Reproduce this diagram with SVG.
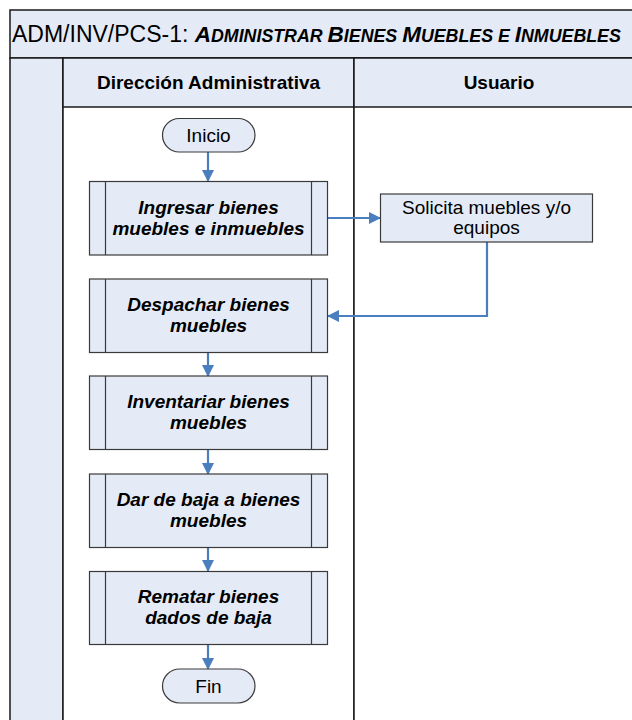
<svg xmlns="http://www.w3.org/2000/svg" width="632" height="720" viewBox="0 0 632 720">
  <style>
    .frame { fill: #E5EBF6; stroke: #1a1a1a; stroke-width: 1.5; }
    .lane { fill: #ffffff; stroke: #1a1a1a; stroke-width: 1.5; }
    .box { fill: #E5EBF6; stroke: #3a3a3a; stroke-width: 1.2; }
    .bar { stroke: #3a3a3a; stroke-width: 1.2; fill: none; }
    .hdr { font-family: "Liberation Sans", Arial, sans-serif; font-size: 19px; font-weight: bold; fill: #000; text-anchor: middle; }
    .proc { font-family: "Liberation Sans", Arial, sans-serif; font-size: 19px; font-weight: bold; font-style: italic; fill: #000; text-anchor: middle; }
    .txt { font-family: "Liberation Sans", Arial, sans-serif; font-size: 19px; fill: #000; text-anchor: middle; }
    .conn { stroke: #4A7EBF; stroke-width: 2.2; fill: none; }
  </style>
  <defs>
    <marker id="arrow" markerWidth="12" markerHeight="12" refX="11" refY="6" orient="auto" markerUnits="userSpaceOnUse">
      <path d="M0,0 L12,6 L0,12 Z" fill="#4A7EBF"/>
    </marker>
  </defs>

  <rect width="632" height="720" fill="#ffffff"/>

  <!-- pool frame -->
  <g id="pool">
    <rect class="frame" x="10" y="10" width="640" height="48"/>
    <text x="12" y="42" font-family="Liberation Sans, Arial, sans-serif" font-size="23" fill="#000">ADM/INV/PCS-1: <tspan font-weight="bold" font-style="italic"><tspan font-size="22.5">A</tspan><tspan font-size="17.8">DMINISTRAR </tspan><tspan font-size="22.5">B</tspan><tspan font-size="17.8">IENES </tspan><tspan font-size="22.5">M</tspan><tspan font-size="17.8">UEBLES E </tspan><tspan font-size="22.5">I</tspan><tspan font-size="17.8">NMUEBLES</tspan></tspan></text>
    <rect class="frame" x="10" y="58" width="53" height="680"/>
  </g>

  <!-- lanes -->
  <g id="lane-direccion">
    <rect class="lane" x="63" y="58" width="291" height="680"/>
    <rect class="frame" x="63" y="58" width="291" height="49"/>
    <text class="hdr" x="208.5" y="89">Dirección Administrativa</text>
  </g>
  <g id="lane-usuario">
    <rect class="lane" x="354" y="58" width="300" height="680"/>
    <rect class="frame" x="354" y="58" width="300" height="49"/>
    <text class="hdr" x="499" y="89">Usuario</text>
  </g>

  <!-- connectors -->
  <g id="connectors">
    <line class="conn" x1="208" y1="152" x2="208" y2="181" marker-end="url(#arrow)"/>
    <line class="conn" x1="328" y1="218" x2="380" y2="218" marker-end="url(#arrow)"/>
    <polyline class="conn" points="487,242 487,316 328,316" marker-end="url(#arrow)"/>
    <line class="conn" x1="208" y1="352" x2="208" y2="376" marker-end="url(#arrow)"/>
    <line class="conn" x1="208" y1="449" x2="208" y2="474" marker-end="url(#arrow)"/>
    <line class="conn" x1="208" y1="547" x2="208" y2="571" marker-end="url(#arrow)"/>
    <line class="conn" x1="208" y1="644" x2="208" y2="669" marker-end="url(#arrow)"/>
  </g>

  <!-- nodes -->
  <g id="inicio">
    <rect class="box" x="162.5" y="118.5" width="92.5" height="33.5" rx="16.75"/>
    <text class="txt" x="208.5" y="142">Inicio</text>
  </g>

  <g id="ingresar">
    <rect class="box" x="89.5" y="181.5" width="238" height="73.5"/>
    <line class="bar" x1="105.5" y1="181.5" x2="105.5" y2="255"/>
    <line class="bar" x1="311.5" y1="181.5" x2="311.5" y2="255"/>
    <text class="proc" x="208.5" y="214">Ingresar bienes</text>
    <text class="proc" x="208.5" y="235">muebles e inmuebles</text>
  </g>

  <g id="solicita">
    <rect class="box" x="380.5" y="194" width="212" height="48"/>
    <text class="txt" x="486.5" y="214">Solicita muebles y/o</text>
    <text class="txt" x="486.5" y="234">equipos</text>
  </g>

  <g id="despachar">
    <rect class="box" x="89.5" y="279" width="238" height="73.5"/>
    <line class="bar" x1="105.5" y1="279" x2="105.5" y2="352.5"/>
    <line class="bar" x1="311.5" y1="279" x2="311.5" y2="352.5"/>
    <text class="proc" x="208.5" y="311">Despachar bienes</text>
    <text class="proc" x="208.5" y="332">muebles</text>
  </g>

  <g id="inventariar">
    <rect class="box" x="89.5" y="376" width="238" height="73.5"/>
    <line class="bar" x1="105.5" y1="376" x2="105.5" y2="449.5"/>
    <line class="bar" x1="311.5" y1="376" x2="311.5" y2="449.5"/>
    <text class="proc" x="208.5" y="408">Inventariar bienes</text>
    <text class="proc" x="208.5" y="429">muebles</text>
  </g>

  <g id="dar-de-baja">
    <rect class="box" x="89.5" y="474" width="238" height="73.5"/>
    <line class="bar" x1="105.5" y1="474" x2="105.5" y2="547.5"/>
    <line class="bar" x1="311.5" y1="474" x2="311.5" y2="547.5"/>
    <text class="proc" x="208.5" y="506">Dar de baja a bienes</text>
    <text class="proc" x="208.5" y="527">muebles</text>
  </g>

  <g id="rematar">
    <rect class="box" x="89.5" y="571.5" width="238" height="73"/>
    <line class="bar" x1="105.5" y1="571.5" x2="105.5" y2="644.5"/>
    <line class="bar" x1="311.5" y1="571.5" x2="311.5" y2="644.5"/>
    <text class="proc" x="208.5" y="603">Rematar bienes</text>
    <text class="proc" x="208.5" y="624">dados de baja</text>
  </g>

  <g id="fin">
    <rect class="box" x="162.5" y="669" width="92.5" height="34" rx="17"/>
    <text class="txt" x="208.5" y="693">Fin</text>
  </g>
</svg>
